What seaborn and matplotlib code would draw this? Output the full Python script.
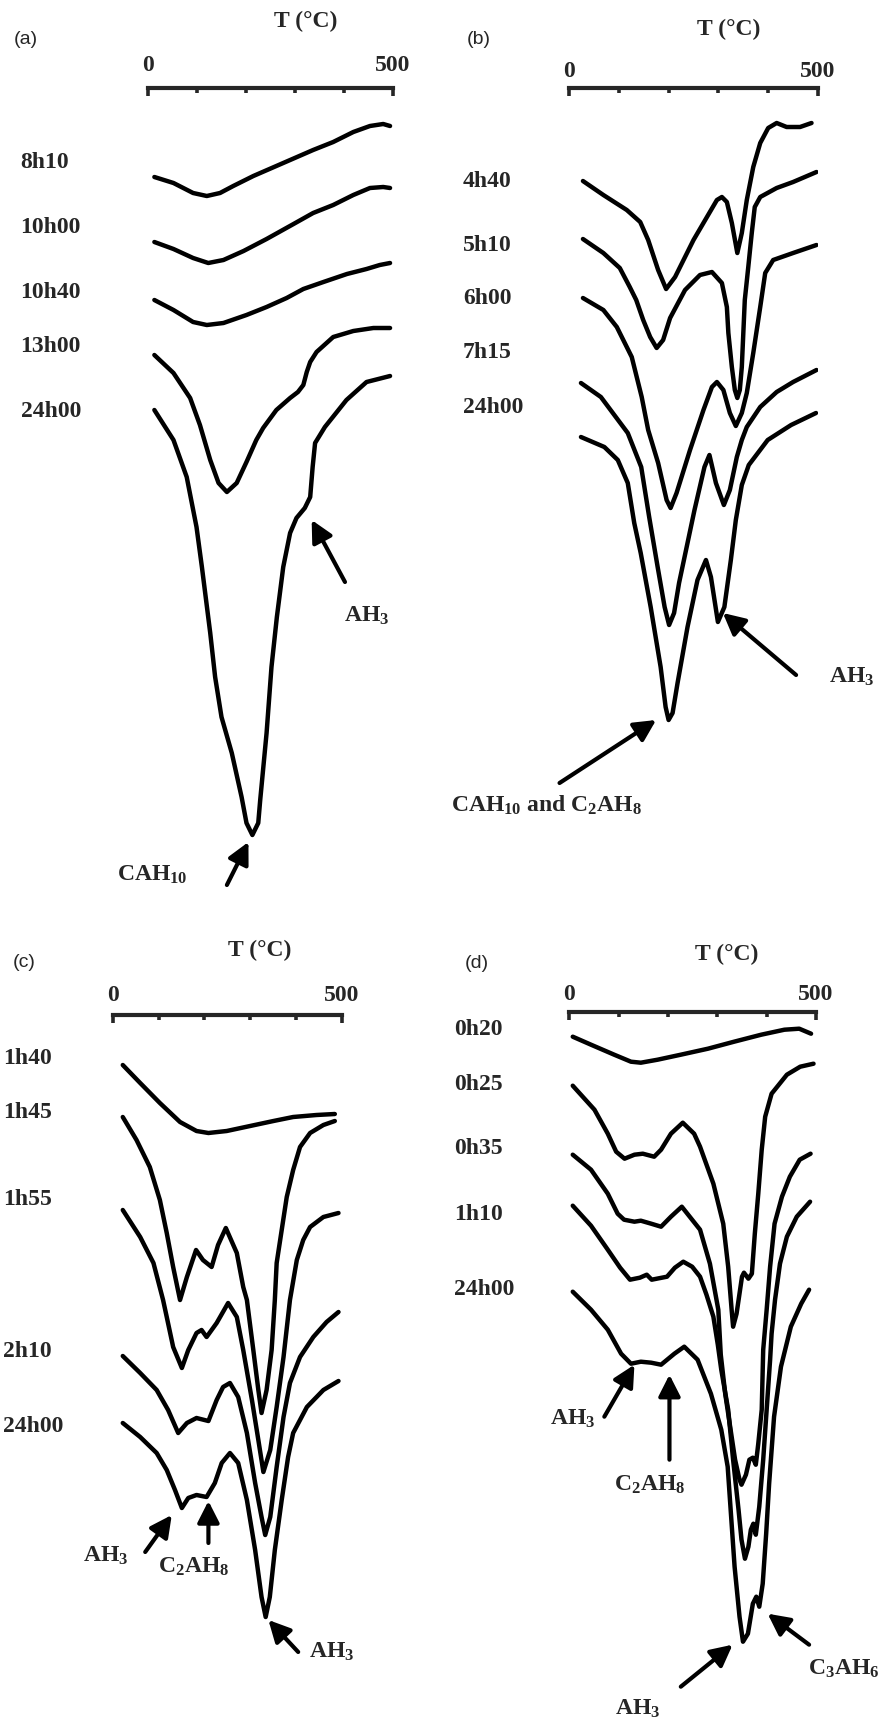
import matplotlib
matplotlib.use("Agg")
import matplotlib.pyplot as plt
import pandas as pd
import seaborn as sns

sns.set_style("white")
plt.rcParams.update({
    "font.family": ["Liberation Serif", "DejaVu Serif"],
    "font.weight": "bold",
    "mathtext.fontset": "custom",
    "mathtext.rm": "Liberation Serif:bold",
    "mathtext.it": "Liberation Serif:bold",
    "mathtext.bf": "Liberation Serif:bold",
    "mathtext.default": "regular",
})

# ---------------- DTA curves: temperature (°C) and signal depth (a.u., downward) ----------------
# (a)
a_names = ["8h10", "10h00", "10h40", "13h00", "24h00"]
a_8h10_T = [13, 52, 92, 120, 147, 174, 215, 276, 337, 378, 419, 453, 480, 494]
a_8h10_S = [89, 95, 105, 108, 105, 98, 88, 75, 62, 54, 44, 38, 36, 38]
a_10h00_T = [13, 52, 92, 123, 154, 195, 242, 297, 337, 378, 419, 453, 480, 494]
a_10h00_S = [154, 161, 170, 175, 172, 163, 151, 136, 125, 117, 107, 100, 99, 100]
a_10h40_T = [13, 52, 92, 120, 154, 201, 242, 283, 317, 358, 406, 446, 473, 494]
a_10h40_S = [212, 222, 234, 237, 235, 227, 219, 210, 201, 194, 186, 181, 177, 175]
a_13h00_T = [13, 52, 86, 106, 127, 144, 161, 181, 201, 221, 235, 262, 290, 306, 317, 324,
             331, 344, 378, 419, 460, 494]
a_13h00_S = [267, 285, 310, 337, 372, 395, 404, 395, 374, 352, 340, 322, 310, 304, 297, 284,
             274, 264, 249, 243, 240, 240]
a_24h00_T = [13, 52, 79, 99, 110, 127, 137, 150, 171, 191, 201, 213, 225, 229, 242, 252, 263,
             276, 290, 303, 320, 331, 336, 341, 361, 405, 446, 494]
a_24h00_S = [322, 352, 389, 439, 479, 545, 589, 629, 665, 709, 735, 747, 735, 712, 645, 579, 529,
             479, 445, 430, 420, 409, 379, 355, 339, 312, 294, 288]

# (b)
b_names = ["4h40", "5h10", "6h00", "7h15", "24h00"]
b_4h40_T = [28, 69, 116, 143, 159, 179, 195, 213, 250, 277, 297, 307, 317, 327, 338, 347, 357,
            370, 384, 400, 417, 437, 464, 487]
b_4h40_S = [93, 107, 122, 134, 152, 182, 201, 189, 152, 129, 112, 109, 114, 135, 165, 145, 112,
            79, 55, 40, 35, 39, 39, 35]
b_5h10_T = [28, 69, 102, 122, 135, 149, 163, 176, 189, 203, 233, 263, 287, 307, 317, 320, 327,
            333, 338, 343, 347, 353, 360, 367, 373, 384, 417, 450, 497]
b_5h10_S = [151, 165, 180, 199, 212, 232, 249, 260, 252, 230, 202, 187, 184, 195, 219, 245, 279,
            302, 310, 302, 279, 212, 179, 145, 119, 109, 100, 94, 84]
b_6h00_T = [28, 69, 96, 126, 146, 159, 179, 196, 204, 216, 243, 270, 287, 297, 310, 323, 335,
            347, 357, 370, 384, 394, 410, 450, 497]
b_6h00_S = [210, 222, 239, 269, 309, 342, 375, 412, 420, 405, 362, 322, 299, 294, 302, 325, 338,
            325, 305, 265, 219, 185, 172, 165, 157]
b_7h15_T = [24, 64, 118, 145, 161, 178, 192, 201, 211, 221, 252, 272, 282, 295, 311, 323, 337,
            347, 357, 384, 417, 450, 497]
b_7h15_S = [295, 309, 345, 379, 429, 479, 519, 537, 525, 495, 422, 379, 367, 395, 417, 402, 369,
            352, 339, 319, 304, 294, 282]
b_24h00_T = [24, 71, 98, 118, 131, 144, 164, 184, 194, 200, 208, 218, 238, 258, 275, 285, 299,
             312, 325, 335, 347, 361, 399, 446, 496]
b_24h00_S = [349, 359, 372, 395, 435, 465, 519, 579, 619, 632, 625, 595, 539, 492, 472, 489, 534,
             519, 472, 432, 397, 377, 352, 337, 325]

# (c)
c_names = ["1h40", "1h45", "1h55", "2h10", "24h00"]
c_1h40_T = [22, 60, 103, 147, 183, 209, 249, 300, 351, 394, 445, 485]
c_1h40_S = [50, 68, 88, 107, 116, 118, 116, 111, 106, 102, 100, 99]
c_1h45_T = [22, 52, 81, 103, 118, 132, 147, 162, 182, 197, 216, 230, 247, 271, 285, 293, 307,
            318, 325, 336, 347, 354, 358, 369, 380, 394, 409, 431, 460, 485]
c_1h45_S = [102, 125, 152, 185, 218, 252, 285, 262, 235, 245, 252, 230, 213, 238, 272, 285, 335,
            375, 398, 375, 335, 285, 248, 215, 182, 155, 132, 118, 110, 106]
c_1h55_T = [22, 60, 89, 110, 118, 132, 151, 165, 183, 194, 205, 227, 252, 271, 285, 304, 318,
            329, 344, 358, 373, 387, 402, 416, 431, 460, 493]
c_1h55_S = [195, 222, 248, 285, 302, 332, 353, 335, 318, 315, 322, 308, 288, 302, 335, 385, 425,
            457, 435, 392, 342, 285, 245, 225, 212, 202, 198]
c_2h10_T = [22, 60, 96, 121, 143, 162, 183, 209, 227, 241, 256, 274, 293, 311, 325, 333, 344,
            358, 373, 387, 409, 438, 467, 493]
c_2h10_S = [341, 358, 375, 395, 418, 408, 403, 406, 385, 372, 368, 382, 418, 468, 502, 520, 502,
            452, 402, 368, 342, 322, 307, 297]
c_24h00_T = [22, 60, 96, 118, 136, 151, 165, 183, 205, 223, 238, 256, 274, 293, 311, 325, 334,
             343, 354, 369, 383, 394, 424, 460, 493]
c_24h00_S = [408, 422, 438, 455, 475, 493, 483, 480, 482, 468, 448, 438, 448, 485, 535, 582, 602,
             582, 535, 485, 442, 418, 392, 375, 366]

# (d)
d_names = ["0h20", "0h25", "0h35", "1h10", "24h00"]
d_0h20_T = [7, 44, 91, 125, 145, 179, 226, 281, 334, 389, 436, 466, 490]
d_0h20_S = [25, 33, 43, 50, 51, 48, 43, 37, 30, 23, 18, 17, 22]
d_0h25_T = [7, 51, 78, 95, 112, 132, 149, 172, 186, 206, 230, 253, 265, 292, 312, 322, 329, 332,
            339, 350, 354, 363, 370, 376, 383, 390, 397, 410, 441, 468, 495]
d_0h25_S = [74, 98, 122, 140, 147, 143, 142, 145, 138, 122, 111, 122, 135, 172, 212, 255, 298,
            315, 302, 265, 261, 267, 262, 222, 182, 138, 105, 82, 63, 55, 52]
d_0h35_T = [7, 44, 78, 98, 111, 132, 145, 166, 186, 206, 228, 265, 285, 302, 307, 316, 326, 336,
            345, 349, 358, 365, 372, 378, 383, 390, 393, 400, 407, 416, 431, 447, 467, 489]
d_0h35_S = [143, 158, 182, 202, 208, 210, 209, 212, 215, 205, 195, 218, 252, 298, 343, 382, 415,
            448, 468, 473, 463, 448, 446, 453, 432, 398, 338, 298, 255, 212, 185, 165, 148, 142]
d_1h10_T = [7, 44, 78, 103, 123, 143, 157, 167, 198, 214, 231, 249, 265, 278, 292, 301, 308, 322,
            332, 343, 349, 356, 363, 368, 373, 378, 385, 393, 400, 407, 410, 417, 427, 441, 461,
            488]
d_1h10_S = [194, 214, 238, 256, 268, 266, 263, 268, 265, 256, 250, 255, 265, 283, 305, 333, 358,
            398, 448, 498, 528, 547, 535, 518, 512, 523, 495, 448, 398, 348, 322, 288, 252, 225,
            205, 190]
d_24h00_T = [7, 44, 78, 105, 125, 145, 166, 186, 213, 233, 260, 287, 308, 321, 328, 335, 345, 352,
             362, 372, 379, 385, 392, 399, 405, 415, 429, 449, 470, 486]
d_24h00_S = [280, 298, 318, 342, 352, 350, 351, 353, 342, 335, 348, 382, 418, 455, 505, 555, 605,
             630, 622, 592, 585, 595, 572, 522, 472, 405, 355, 315, 292, 278]

# peak assignments: (text, text position, arrow head, arrow tail) in (°C, depth)
a_notes = [("AH$_3$", (446, 528), (334, 432), (402, 494)),
           ("CAH$_{10}$", (9, 787), (205, 754), (161, 797))]
b_notes = [("AH$_3$", (568, 589), (309, 525), (456, 587)),
           ("CAH$_{10}$ and C$_2$AH$_8$", (-46, 717), (175, 632), (-19, 695))]
c_notes = [("AH$_3$", (-15, 541), (129, 500), (71, 537)),
           ("C$_2$AH$_8$", (176, 552), (209, 486), (209, 528)),
           ("AH$_3$", (478, 637), (340, 605), (405, 637))]
d_notes = [("AH$_3$", (7, 407), (132, 353), (71, 405)),
           ("C$_2$AH$_8$", (162, 473), (203, 363), (203, 448)),
           ("AH$_3$", (139, 697), (331, 633), (226, 675)),
           ("C$_3$AH$_6$", (557, 657), (402, 602), (486, 633))]

# ---------------- layout ----------------
W, H = 882, 1723
fig = plt.figure(figsize=(W / 100, H / 100), dpi=100)

panels = [
    dict(letter="(a)", box=(148, 393, 88, 900), names=a_names,
         T=[a_8h10_T, a_10h00_T, a_10h40_T, a_13h00_T, a_24h00_T],
         S=[a_8h10_S, a_10h00_S, a_10h40_S, a_13h00_S, a_24h00_S],
         label_x=-260, label_y=[80, 145, 210, 264, 329], pad=8.6,
         title_xy=(322, -61), letter_xy=(-250, -49), notes=a_notes),
    dict(letter="(b)", box=(569, 818, 88, 900), names=b_names,
         T=[b_4h40_T, b_5h10_T, b_6h00_T, b_7h15_T, b_24h00_T],
         S=[b_4h40_S, b_5h10_S, b_6h00_S, b_7h15_S, b_24h00_S],
         label_x=-213, label_y=[99, 163, 216, 270, 325], pad=4.3,
         title_xy=(321, -53), letter_xy=(-182, -48), notes=b_notes),
    dict(letter="(c)", box=(112.7, 341.7, 1015, 1720), names=c_names,
         T=[c_1h40_T, c_1h45_T, c_1h55_T, c_2h10_T, c_24h00_T],
         S=[c_1h40_S, c_1h45_S, c_1h55_S, c_2h10_S, c_24h00_S],
         label_x=-239, label_y=[49, 103, 190, 342, 417], pad=6.3,
         title_xy=(320, -59), letter_xy=(-193, -52), notes=c_notes),
    dict(letter="(d)", box=(569.3, 816, 1011.7, 1720), names=d_names,
         T=[d_0h20_T, d_0h25_T, d_0h35_T, d_1h10_T, d_24h00_T],
         S=[d_0h20_S, d_0h25_S, d_0h35_S, d_1h10_S, d_24h00_S],
         label_x=-234, label_y=[23, 78, 142, 208, 283], pad=5.0,
         title_xy=(319, -52), letter_xy=(-187, -48), notes=d_notes),
]

for p in panels:
    x0, x500, top, bottom = p["box"]
    ax = fig.add_axes([x0 / W, 1 - bottom / H, (x500 - x0) / W, (bottom - top) / H])

    df = pd.concat(
        [pd.DataFrame({"T": t, "signal": s, "curve": n})
         for n, t, s in zip(p["names"], p["T"], p["S"])],
        ignore_index=True)
    sns.lineplot(data=df, x="T", y="signal", units="curve", estimator=None, sort=False,
                 color="black", linewidth=3.2, legend=False, ax=ax,
                 solid_joinstyle="round", solid_capstyle="round")

    ax.set_xlim(0, 500)
    ax.set_ylim(bottom - top, 0)
    ax.set_xlabel("")
    ax.set_ylabel("")
    ax.set_yticks([])
    for side in ("left", "right", "bottom"):
        ax.spines[side].set_visible(False)
    ax.spines["top"].set_linewidth(3.0)
    ax.xaxis.set_ticks_position("top")
    ax.set_xticks([0, 500], labels=["0", "500"])
    ax.set_xticks([100, 200, 300, 400], minor=True)
    ax.tick_params(axis="x", which="major", direction="in", length=5.5, width=2.6,
                   pad=p["pad"], labelsize=17, top=True, bottom=False,
                   labeltop=True, labelbottom=False)
    ax.tick_params(axis="x", which="minor", direction="in", length=3.5, width=2.6,
                   top=True, bottom=False)

    ax.text(*p["title_xy"], "T (°C)", ha="center", va="baseline", fontsize=17)
    ax.text(*p["letter_xy"], p["letter"], ha="center", va="center", fontsize=14,
            fontweight="normal", family=["Liberation Sans", "DejaVu Sans"])

    for name, y in zip(p["names"], p["label_y"]):
        ax.text(p["label_x"], y, name, ha="left", va="baseline", fontsize=17)

    for text, txy, head, tail in p["notes"]:
        ax.text(*txy, text, ha="center", va="center", fontsize=17)
        ax.annotate("", xy=head, xytext=tail, annotation_clip=False,
                    arrowprops=dict(arrowstyle="-|>,head_length=0.65,head_width=0.33",
                                    lw=3.0, color="black", shrinkA=0, shrinkB=0,
                                    mutation_scale=20))

fig.savefig("out.png", dpi=100, facecolor="white")
